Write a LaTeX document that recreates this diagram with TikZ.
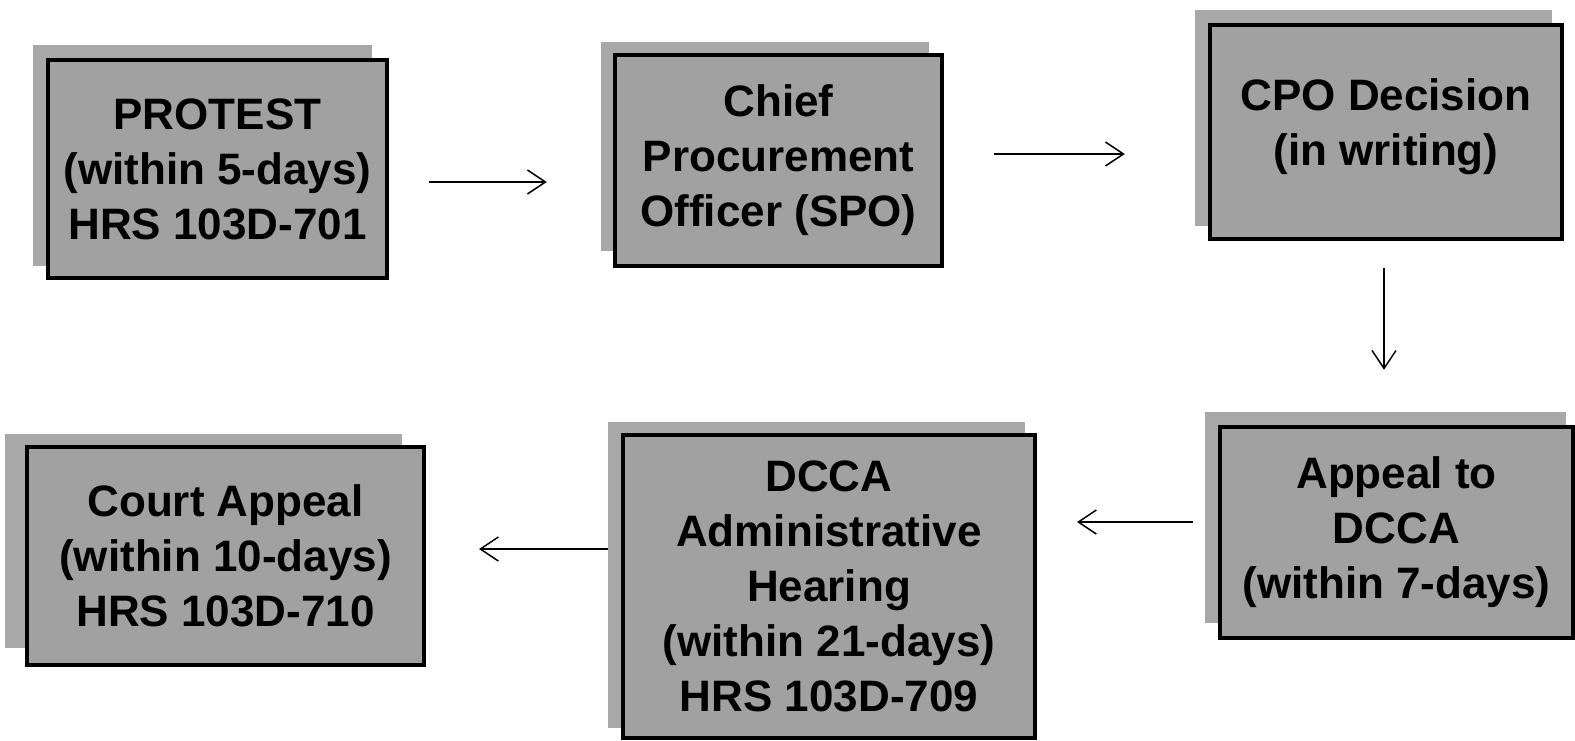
\documentclass[tikz,border=0pt]{standalone}
\usepackage{fontspec}
\setmainfont{Liberation Sans}
\usetikzlibrary{arrows.meta,calc}
\begin{document}
\begin{tikzpicture}[x=1pt,y=-1pt,
  shadowbox/.style={fill=black!34, draw=none, inner sep=0pt},
  mainbox/.style={fill=black!37, draw=black, line width=4pt, inner sep=0pt,
    align=center, font=\fontsize{44}{55}\selectfont\bfseries},
  arr/.style={line width=1.5pt, -{Straight Barb[length=18pt,width=24pt,line width=1.5pt]}}]
\useasboundingbox[fill=white] (0,0) rectangle (1575,740);
% shadows
\node[shadowbox, minimum width=339pt, minimum height=221pt] (s1) at (202.5,155.5) {};
\node[shadowbox, minimum width=328pt, minimum height=209pt] (s2) at (765,146.5) {};
\node[shadowbox, minimum width=357pt, minimum height=216pt] (s3) at (1373.5,118) {};
\node[shadowbox, minimum width=361pt, minimum height=211pt] (s4) at (1385.5,517.5) {};
\node[shadowbox, minimum width=417pt, minimum height=306pt] (s5) at (816.5,575) {};
\node[shadowbox, minimum width=397pt, minimum height=214pt] (s6) at (203.5,541) {};
% main boxes
\node[mainbox, minimum width=339pt, minimum height=218pt] (b1) at (217.5,169)
  {PROTEST\\(within 5-days)\\HRS 103D-701};
\node[mainbox, minimum width=327pt, minimum height=211pt] (b2) at (778.5,160.5)
  {Chief\\Procurement\\Officer (SPO)};
\node[mainbox, minimum width=352pt, minimum height=214pt] (b3) at (1386,132)
  {CPO Decision\\(in writing)\\[-35pt]};
\node[mainbox, minimum width=353pt, minimum height=211pt] (b4) at (1396.5,532.5)
  {Appeal to\\DCCA\\(within 7-days)};
\node[mainbox, minimum width=412pt, minimum height=303pt] (b5) at (829,586.5)
  {DCCA\\Administrative\\Hearing\\(within 21-days)\\HRS 103D-709};
\node[mainbox, minimum width=397pt, minimum height=218pt] (b6) at (225.5,556)
  {Court Appeal\\(within 10-days)\\HRS 103D-710};
% connectors
\draw[arr] ($(b1.east)+(40,13)$) -- ($(s2.west)+(-54,35.5)$);
\draw[arr] ($(b2.east)+(50,-6.5)$) -- ($(s3.west)+(-70,36)$);
\draw[arr] ($(b3.south)+(-2,27)$) -- ($(s4.north)+(-1.5,-42)$);
\draw[arr] ($(s4.west)+(-12,4.5)$) -- ($(b5.east)+(40,-64.5)$);
\draw[arr] ($(s5.west)+(0,-26)$) -- ($(b6.east)+(53,-7)$);
\end{tikzpicture}
\end{document}
